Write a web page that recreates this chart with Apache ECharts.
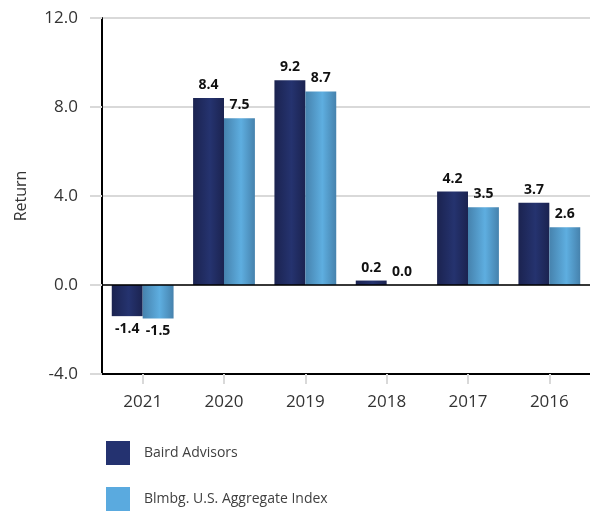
<!DOCTYPE html>
<html>
<head>
<meta charset="utf-8">
<script src="https://cdn.jsdelivr.net/npm/echarts@6/dist/echarts.min.js"></script>
<style>
  html, body { margin: 0; padding: 0; background: #fff; }
  #chart { width: 590px; height: 513px; }
</style>
</head>
<body>
<div id="chart"></div>
<script>
// Calendar-year returns
const years = ['2021', '2020', '2019', '2018', '2017', '2016'];
const bairdAdvisors = [-1.4, 8.4, 9.2, 0.2, 4.2, 3.7];
const aggregateIndex = [-1.5, 7.5, 8.7, 0.0, 3.5, 2.6];
const seriesNames = ['Baird Advisors', 'Blmbg. U.S. Aggregate Index'];

const FONT = '"Open Sans", "Noto Sans", sans-serif';

function shade(edge, mid) {
  return new echarts.graphic.LinearGradient(0, 0, 1, 0, [
    { offset: 0, color: edge },
    { offset: 0.55, color: mid },
    { offset: 1, color: edge }
  ]);
}

// Positive values labelled above the bar, negatives below it
function withLabels(values) {
  return values.map(v => ({
    value: v,
    label: { position: v < 0 ? 'bottom' : 'top' }
  }));
}

const labelStyle = {
  show: true,
  formatter: p => p.value.toFixed(1),
  fontFamily: FONT,
  fontWeight: 'bold',
  fontSize: 14,
  color: '#111',
  distance: 6
};

const chart = echarts.init(document.getElementById('chart'));
chart.setOption({
  animation: false,
  textStyle: { fontFamily: FONT },
  grid: { left: 102, top: 18, right: -4, bottom: 139 },
  legend: {
    orient: 'vertical',
    left: 106,
    top: 441,
    padding: 0,
    itemWidth: 24,
    itemHeight: 24,
    itemGap: 22,
    icon: 'rect',
    textStyle: { fontFamily: FONT, fontSize: 14, color: '#404040', padding: [0, 0, 0, 9] },
    data: [
      { name: seriesNames[0], itemStyle: { color: '#243270' } },
      { name: seriesNames[1], itemStyle: { color: '#5aaadf' } }
    ]
  },
  xAxis: {
    type: 'category',
    data: years,
    axisLine: { onZero: false, lineStyle: { color: '#000', width: 2 } },
    axisTick: { show: true, alignWithLabel: true, length: 10, lineStyle: { color: '#d9d9d9', width: 2 } },
    axisLabel: { fontFamily: FONT, fontSize: 17, color: '#333', margin: 20 }
  },
  yAxis: {
    type: 'value',
    min: -4,
    max: 12,
    interval: 4,
    name: 'Return',
    nameLocation: 'middle',
    nameGap: 73,
    nameTextStyle: { fontFamily: FONT, fontSize: 16, color: '#333' },
    axisLine: { show: true, lineStyle: { color: '#000', width: 2 } },
    axisTick: { show: true, length: 12, lineStyle: { color: '#d9d9d9', width: 2 } },
    axisLabel: { fontFamily: FONT, fontSize: 17, color: '#333', margin: 24, formatter: v => v.toFixed(1) },
    splitLine: { show: true, lineStyle: { color: '#d9d9d9', width: 2 } }
  },
  series: [
    {
      name: seriesNames[0],
      type: 'bar',
      data: withLabels(bairdAdvisors),
      barGap: '0%',
      barCategoryGap: '24%',
      itemStyle: { color: shade('#1b2350', '#25336f') },
      label: labelStyle,
      markLine: {
        silent: true,
        symbol: 'none',
        label: { show: false },
        lineStyle: { color: '#000', width: 1.5, type: 'solid' },
        data: [{ yAxis: 0 }]
      },
      z: 3
    },
    {
      name: seriesNames[1],
      type: 'bar',
      data: withLabels(aggregateIndex),
      barGap: '0%',
      barCategoryGap: '24%',
      itemStyle: { color: shade('#4682ad', '#5eaee0') },
      label: labelStyle,
      z: 3
    }
  ]
});
</script>
</body>
</html>
